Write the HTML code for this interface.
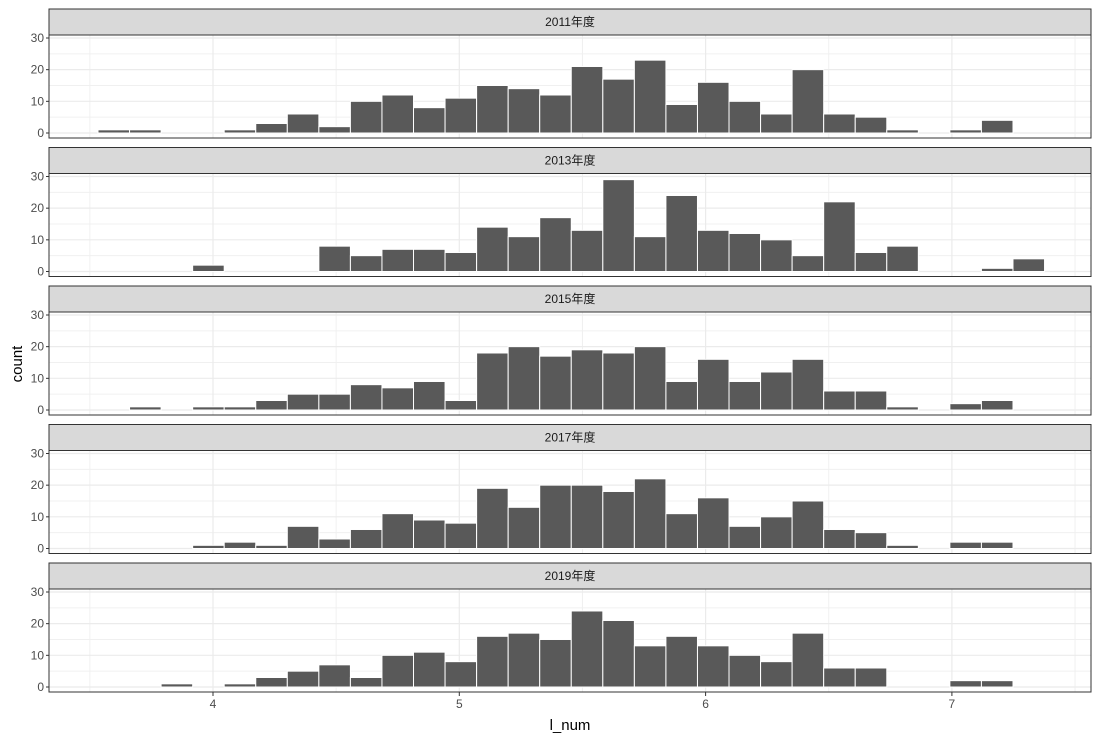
<!DOCTYPE html>
<html><head><meta charset="utf-8"><style>
html,body{margin:0;padding:0;background:#fff}
svg{display:block;font-family:"Liberation Sans","Noto Sans CJK SC",sans-serif}
</style></head><body>
<svg id="chart" width="1100" height="742" viewBox="0 0 1100 742"></svg>
<script>
const facetLabels = ["2011年度","2013年度","2015年度","2017年度","2019年度"];
const binStart = 3.405;
const binWidth = 0.1281;
const counts2011 = [0,1,1,0,0,1,3,6,2,10,12,8,11,15,14,12,21,17,23,9,16,10,6,20,6,5,1,0,1,4,0,0];
const counts2013 = [0,0,0,0,2,0,0,0,8,5,7,7,6,14,11,17,13,29,11,24,13,12,10,5,22,6,8,0,0,1,4,0];
const counts2015 = [0,0,1,0,1,1,3,5,5,8,7,9,3,18,20,17,19,18,20,9,16,9,12,16,6,6,1,0,2,3,0,0];
const counts2017 = [0,0,0,0,1,2,1,7,3,6,11,9,8,19,13,20,20,18,22,11,16,7,10,15,6,5,1,0,2,2,0,0];
const counts2019 = [0,0,0,1,0,1,3,5,7,3,10,11,8,16,17,15,24,21,13,16,13,10,8,17,6,6,0,0,2,2,0,0];
const allCounts = [counts2011,counts2013,counts2015,counts2017,counts2019];
const xTicks = [4,5,6,7];
const xMinor = [3.5,4.5,5.5,6.5,7.5];
const yTicks = [0,10,20,30];
const yMinor = [5,15,25];

const NS="http://www.w3.org/2000/svg";
const svg=document.getElementById('chart');
function mk(tag,attrs,parent){const e=document.createElementNS(NS,tag);for(const k in attrs)e.setAttribute(k,attrs[k]);(parent||svg).appendChild(e);return e;}
const X0=49,X1=1091;
function xs(v){return 213+(v-4)*246.3;}
const period=138.5;
facetLabels.forEach((lab,i)=>{
  const st=9+period*i, pt=35+period*i, pb=138+period*i, zero=pb-5;
  const ys=v=>zero-v*3.167;
  const g=mk('g',{});
  
  
  const strip=mk('rect',{x:X0,y:st,width:X1-X0,height:pt-st,fill:'#d9d9d9',stroke:'#333','stroke-width':1},g);
  
  
  const stxt=mk('text',{x:(X0+X1)/2,y:st+17,'text-anchor':'middle','font-size':12,fill:'#1a1a1a'},g);
  stxt.textContent=lab;
  
  
  yMinor.forEach(v=>{const l=mk('line',{x1:X0,x2:X1,y1:ys(v),y2:ys(v),stroke:'#f0f0f0','stroke-width':1},g);});
  xMinor.forEach(v=>{const l=mk('line',{x1:xs(v),x2:xs(v),y1:pt,y2:pb,stroke:'#f0f0f0','stroke-width':1},g);});
  yTicks.forEach(v=>{const l=mk('line',{x1:X0,x2:X1,y1:ys(v),y2:ys(v),stroke:'#ebebeb','stroke-width':1.2},g);
    const t=mk('line',{x1:X0-3,x2:X0,y1:ys(v),y2:ys(v),stroke:'#333','stroke-width':1},g);
    const tx=mk('text',{x:X0-5,y:ys(v)+4,'text-anchor':'end','font-size':12,fill:'#4d4d4d'},g);tx.textContent=v;});
  xTicks.forEach(v=>{const l=mk('line',{x1:xs(v),x2:xs(v),y1:pt,y2:pb,stroke:'#ebebeb','stroke-width':1.2},g);});
  allCounts[i].forEach((c,k)=>{
    if(c<=0)return;
    const x=xs(binStart+k*binWidth), w=xs(binStart+(k+1)*binWidth)-x;
    const r=mk('rect',{x:x,y:ys(c),width:w,height:zero-ys(c),fill:'#595959',stroke:'#fff','stroke-width':1},g);
    
    
  });
  const border=mk('rect',{x:X0,y:pt,width:X1-X0,height:pb-pt,fill:'none',stroke:'#333','stroke-width':1},g);
  
  
  if(i===4){
    xTicks.forEach(v=>{const t=mk('line',{x1:xs(v),x2:xs(v),y1:pb,y2:pb+4,stroke:'#333','stroke-width':1});
      const tx=mk('text',{x:xs(v),y:pb+16,'text-anchor':'middle','font-size':12,fill:'#4d4d4d'});tx.textContent=v;});
  }
});
const xt=mk('text',{x:570,y:730,'text-anchor':'middle','font-size':15,fill:'#000'});
xt.textContent='l_num';


const yt=mk('text',{x:0,y:0,'text-anchor':'middle','font-size':15,fill:'#000',transform:'translate(22,364) rotate(-90)'});
yt.textContent='count';


</script>
</body></html>
